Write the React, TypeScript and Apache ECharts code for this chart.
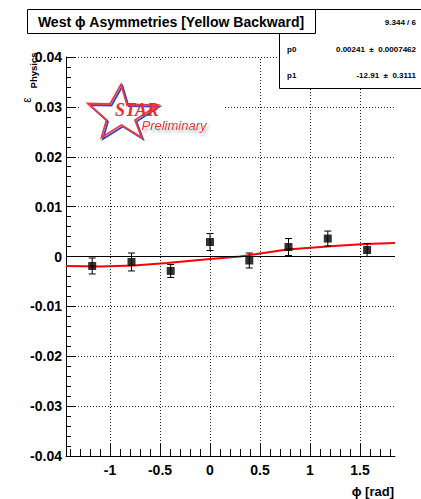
import React, { useEffect, useRef } from "react";
import * as echarts from "echarts";

// ---- data ----
const phiValues = [-1.178, -0.785, -0.393, 0, 0.393, 0.785, 1.178, 1.571];
const asymValues = [-0.0019, -0.0011, -0.0029, 0.0029, -0.0008, 0.0019, 0.0036, 0.0013];
const asymErrors = [0.0016, 0.0018, 0.0013, 0.0017, 0.0015, 0.0017, 0.0015, 0.0013];

const fitPhi = [-1.44, -1.1, -0.76, -0.43, 0, 0.3, 0.77, 1.24, 1.55, 1.85];
const fitAsym = [-0.0019, -0.002, -0.0018, -0.0013, -0.0005, 0.0, 0.0014, 0.0021, 0.0025, 0.0027];

const xMajorTicks = [-1, -0.5, 0, 0.5, 1, 1.5];
const xMinorTicks = [
  -1.4, -1.3, -1.2, -1.1, -0.9, -0.8, -0.7, -0.6, -0.4, -0.3, -0.2, -0.1,
  0.1, 0.2, 0.3, 0.4, 0.6, 0.7, 0.8, 0.9, 1.1, 1.2, 1.3, 1.4, 1.6, 1.7, 1.8,
];

const titleText = "West \u03d5 Asymmetries [Yellow Backward]";
const statsChi2 = "9.344 / 6";
const statsRows = [
  { name: "p0", value: "0.00241  \u00b1  0.0007462" },
  { name: "p1", value: "-12.91  \u00b1  0.3111" },
];

const FONT = "Liberation Sans, Arial, Helvetica, sans-serif";

export default function App() {
  const ref = useRef<HTMLDivElement>(null);

  useEffect(() => {
    if (!ref.current) return;
    const chart = echarts.init(ref.current, null, { renderer: "svg" });

    const errData = phiValues.map((p, i) => [p, asymValues[i], asymErrors[i]]);
    const ptData = phiValues.map((p, i) => [p, asymValues[i]]);
    const fitData = fitPhi.map((p, i) => [p, fitAsym[i]]);

    const starOuter = [
      [121, 84.5],
      [110, 104],
      [88, 103.5],
      [106.5, 120],
      [101.5, 137.5],
      [121.5, 125],
      [141.5, 137.5],
      [135, 120],
      [158, 105],
      [127, 104.5],
    ];

    const option: any = {
      animation: false,
      backgroundColor: "#fff",
      grid: { left: 66, right: 26, top: 57, bottom: 43, containLabel: false },
      xAxis: [
        {
          type: "value",
          min: -1.44,
          max: 1.85,
          position: "bottom",
          axisLine: { show: true, onZero: false, lineStyle: { color: "#000", width: 1 } },
          axisTick: {
            show: true,
            inside: true,
            length: 13,
            customValues: xMajorTicks,
            lineStyle: { color: "#000", width: 1 },
          },
          axisLabel: {
            show: true,
            customValues: xMajorTicks,
            margin: 7,
            color: "#000",
            fontFamily: FONT,
            fontWeight: "bold",
            fontSize: 14,
            formatter: (v: number) => String(Math.round(v * 10) / 10),
          },
          splitLine: { show: false },
        },
        {
          type: "value",
          min: -1.44,
          max: 1.85,
          position: "bottom",
          axisLine: { show: false, onZero: false },
          axisTick: {
            show: true,
            inside: true,
            length: 7,
            customValues: xMinorTicks,
            lineStyle: { color: "#000", width: 1 },
          },
          axisLabel: { show: false },
          splitLine: { show: false },
        },
      ],
      yAxis: {
        type: "value",
        min: -0.04,
        max: 0.04,
        interval: 0.01,
        axisLine: { show: true, onZero: false, lineStyle: { color: "#000", width: 1 } },
        axisTick: { show: true, inside: true, length: 10, lineStyle: { color: "#000", width: 1 } },
        minorTick: { show: true, splitNumber: 5, length: 5, lineStyle: { color: "#000", width: 1 } },
        axisLabel: {
          margin: 4,
          color: "#000",
          fontFamily: FONT,
          fontWeight: "bold",
          fontSize: 14,
          formatter: (v: number) =>
            Math.abs(v) < 1e-9 ? "0" : (Math.round(v * 100) / 100).toFixed(2),
        },
        splitLine: { show: true, lineStyle: { color: "#222", width: 1, type: [1, 2] } },
      },
      series: [
        {
          type: "line",
          name: "grid",
          xAxisIndex: 0,
          data: [],
          z: 1,
          silent: true,
          markLine: {
            silent: true,
            symbol: "none",
            label: { show: false },
            lineStyle: { color: "#222", width: 1, type: [1, 2] },
            data: xMajorTicks.map((v) => ({ xAxis: v })),
          },
        },
        {
          type: "line",
          name: "zero",
          xAxisIndex: 0,
          data: [],
          z: 2,
          silent: true,
          markLine: {
            silent: true,
            symbol: "none",
            label: { show: false },
            lineStyle: { color: "#000", width: 1, type: "solid" },
            data: [{ yAxis: 0 }],
          },
        },
        {
          type: "line",
          name: "fit",
          xAxisIndex: 0,
          data: fitData,
          showSymbol: false,
          symbol: "none",
          z: 3,
          lineStyle: { color: "#ff0000", width: 2 },
        },
        {
          type: "custom",
          name: "errors",
          xAxisIndex: 0,
          z: 4,
          data: errData,
          encode: { x: 0, y: 1 },
          renderItem: (params: any, api: any) => {
            const x = api.value(0);
            const y = api.value(1);
            const e = api.value(2);
            const top = api.coord([x, y + e]);
            const bot = api.coord([x, y - e]);
            const st = { stroke: "#000", lineWidth: 1 };
            return {
              type: "group",
              children: [
                { type: "line", shape: { x1: top[0], y1: top[1], x2: bot[0], y2: bot[1] }, style: st },
                { type: "line", shape: { x1: top[0] - 3.5, y1: top[1], x2: top[0] + 3.5, y2: top[1] }, style: st },
                { type: "line", shape: { x1: bot[0] - 3.5, y1: bot[1], x2: bot[0] + 3.5, y2: bot[1] }, style: st },
              ],
            };
          },
        },
        {
          type: "scatter",
          name: "points",
          xAxisIndex: 0,
          z: 5,
          data: ptData,
          symbol: "rect",
          symbolSize: 8,
          itemStyle: { color: "#000" },
        },
      ],
      graphic: [
        // logo white background
        { type: "rect", z: 50, silent: true, shape: { x: 81, y: 62, width: 143, height: 92 }, style: { fill: "#fff" } },
        {
          type: "polygon",
          z: 51,
          silent: true,
          x: 1.5,
          y: 1.5,
          shape: { points: starOuter },
          style: { fill: "none", stroke: "#3344cc", lineWidth: 1.8 },
        },
        {
          type: "polygon",
          z: 52,
          silent: true,
          shape: { points: starOuter },
          style: { fill: "none", stroke: "#ee3a3a", lineWidth: 1.8 },
        },
        {
          type: "text",
          z: 54,
          silent: true,
          x: 115,
          y: 110,
          style: {
            text: "STAR",
            fill: "#ee2a2a",
            font: "italic bold 18px 'Liberation Serif', 'Times New Roman', serif",
            verticalAlign: "middle",
            textShadowColor: "#3344cc",
            textShadowOffsetX: 1.5,
            textShadowOffsetY: 1.5,
            textShadowBlur: 0,
          },
        },
        {
          type: "text",
          z: 54,
          silent: true,
          x: 141.5,
          y: 125.5,
          style: {
            text: "Preliminary",
            fill: "#ee3030",
            font: "italic 13px 'Liberation Sans', Arial, sans-serif",
            verticalAlign: "middle",
            textShadowColor: "#b8b8c8",
            textShadowOffsetX: 2,
            textShadowOffsetY: 3,
            textShadowBlur: 2,
          },
        },
        // stats box
        {
          type: "rect",
          z: 60,
          silent: true,
          shape: { x: 279.5, y: 9.5, width: 150, height: 79 },
          style: { fill: "#fff", stroke: "#000", lineWidth: 1 },
        },
        {
          type: "text",
          z: 61,
          silent: true,
          x: 416,
          y: 22,
          style: { text: statsChi2, fill: "#000", font: `bold 8px ${FONT}`, align: "right", verticalAlign: "middle" },
        },
        ...statsRows.flatMap((r, i) => [
          {
            type: "text",
            z: 61,
            silent: true,
            x: 287,
            y: 49 + i * 26,
            style: { text: r.name, fill: "#000", font: `bold 8px ${FONT}`, align: "left", verticalAlign: "middle" },
          },
          {
            type: "text",
            z: 61,
            silent: true,
            x: 416,
            y: 49 + i * 26,
            style: { text: r.value, fill: "#000", font: `bold 8px ${FONT}`, align: "right", verticalAlign: "middle" },
          },
        ]),
        // title box
        {
          type: "rect",
          z: 62,
          silent: true,
          shape: { x: 27.5, y: 9.5, width: 288, height: 24 },
          style: { fill: "#fff", stroke: "#000", lineWidth: 1 },
        },
        {
          type: "text",
          z: 63,
          silent: true,
          x: 171,
          y: 22,
          style: { text: titleText, fill: "#000", font: `bold 14px ${FONT}`, align: "center", verticalAlign: "middle" },
        },
        // y axis title
        {
          type: "text",
          z: 63,
          silent: true,
          x: 26.5,
          y: 100,
          rotation: Math.PI / 2,
          style: { text: "\u03b5", fill: "#000", font: `12px ${FONT}`, align: "center", verticalAlign: "middle" },
        },
        {
          type: "text",
          z: 63,
          silent: true,
          x: 33,
          y: 70.5,
          rotation: Math.PI / 2,
          style: { text: "Physics", fill: "#000", font: `bold 9.5px ${FONT}`, align: "center", verticalAlign: "middle" },
        },
        // x axis title
        {
          type: "text",
          z: 63,
          silent: true,
          x: 394,
          y: 491,
          style: { text: "\u03d5 [rad]", fill: "#000", font: `bold 13px ${FONT}`, align: "right", verticalAlign: "middle" },
        },
      ],
    };

    chart.setOption(option);
    return () => chart.dispose();
  }, []);

  return (
    <div
      ref={ref}
      style={{ position: "fixed", left: 0, top: 0, width: 421, height: 499, background: "#fff" }}
    />
  );
}
